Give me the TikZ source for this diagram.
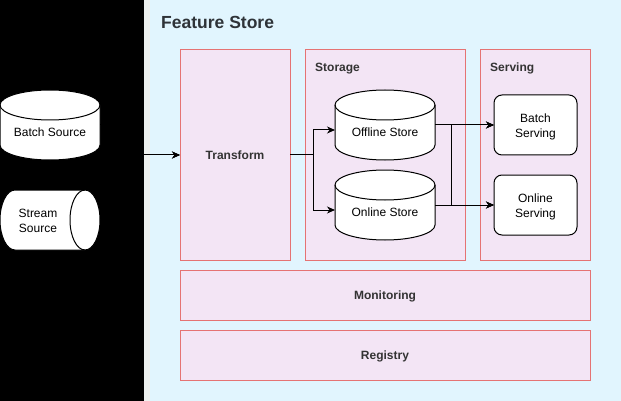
\documentclass[tikz,border=0pt]{standalone}
\usepackage{fontspec}
\setmainfont{Liberation Sans}
\usetikzlibrary{arrows.meta,calc}
\definecolor{fsblue}{HTML}{E1F5FE}
\definecolor{fsstrip}{HTML}{EEF1EF}
\definecolor{pinkfill}{HTML}{F3E5F5}
\definecolor{redline}{HTML}{E57373}
\definecolor{labelgray}{HTML}{333333}
\definecolor{titlegray}{HTML}{2E3338}
\tikzset{
  panel/.style={draw=redline, fill=pinkfill, line width=1pt, rectangle, anchor=north west, inner sep=0pt, outer sep=0pt},
  hold/.style={rectangle, draw=none, anchor=north west, inner sep=0pt, outer sep=0pt},
  cylline/.style={draw=black, fill=white, line width=1pt},
  servbox/.style={draw=black, fill=white, line width=1pt, rounded corners=8pt, rectangle, anchor=north west, inner sep=0pt, outer sep=0pt, minimum width=83pt, minimum height=60pt},
  boldlabel/.style={font=\bfseries\fontsize{12}{14}\selectfont, text=labelgray, inner sep=0pt, text height=8.7pt, text depth=0pt},
  plainlabel/.style={font=\fontsize{12}{15}\selectfont, text=black, inner sep=0pt, align=center},
  conn/.style={draw=black, line width=1pt},
  arr/.style={conn, -{Stealth[length=8pt,width=7pt,inset=2.5pt]}},
}
\newcommand{\vcylshape}[4]{% left, top, width, height
  \filldraw[cylline] (#1,#2+15) -- (#1,#2+#4-15)
     arc[start angle=180,end angle=0,x radius=#3/2,y radius=15]
     -- (#1+#3,#2+15)
     arc[start angle=0,end angle=-180,x radius=#3/2,y radius=15] -- cycle;
  \draw[cylline, fill=none] (#1,#2+15) arc[start angle=180,end angle=0,x radius=#3/2,y radius=15];
}
\begin{document}
\begin{tikzpicture}[x=1pt,y=-1pt]
\useasboundingbox (0,0) rectangle (621,401);
% backgrounds
\fill[black] (0,0) rectangle (144,401);
\fill[fsstrip] (144,0) rectangle (150,401);
\fill[fsblue] (150,0) rectangle (621,401);

\node[anchor=west, inner sep=0pt, font=\bfseries\fontsize{17.5}{20}\selectfont, text=titlegray] (title) at (161,22) {Feature Store};

% panels
\node[panel, minimum width=110pt, minimum height=210pt] (tr) at (180,50) {};
\node[boldlabel] (trl) at (tr.center) {Transform};
\node[panel, minimum width=160pt, minimum height=210pt] (stor) at (305,50) {};
\node[boldlabel, anchor=west] (storl) at (315,67.5) {Storage};
\node[panel, minimum width=110pt, minimum height=210pt] (serv) at (480,50) {};
\node[boldlabel, anchor=west] (servl) at (490,67.5) {Serving};
\node[panel, minimum width=410pt, minimum height=50pt] (mon) at (180,270) {};
\node[boldlabel] (monl) at (mon.center) {Monitoring};
\node[panel, minimum width=410pt, minimum height=50pt] (reg) at (180,330) {};
\node[boldlabel] (regl) at (reg.center) {Registry};

% sources
\node[hold, minimum width=100pt, minimum height=70pt] (bsrc) at (0,90) {};
\vcylshape{0}{90}{100}{70}
\node[plainlabel] (bsrcl) at ($(bsrc.center)+(0,7.5)$) {Batch Source};

\node[hold, minimum width=100pt, minimum height=60pt] (ssrc) at (0,190) {};
\filldraw[cylline] (15,190) -- (85,190)
   arc[start angle=-90,end angle=90,x radius=15,y radius=30]
   -- (15,250)
   arc[start angle=90,end angle=270,x radius=15,y radius=30] -- cycle;
\draw[cylline, fill=none] (85,190) arc[start angle=270,end angle=90,x radius=15,y radius=30];
\node[plainlabel] (ssrcl) at (38,221) {Stream\\Source};

% stores
\node[hold, minimum width=100pt, minimum height=70pt] (off) at (335,90) {};
\vcylshape{335}{90}{100}{70}
\node[plainlabel] (offl) at ($(off.center)+(0,7.5)$) {Offline Store};
\node[hold, minimum width=100pt, minimum height=70pt] (onl) at (335,170) {};
\vcylshape{335}{170}{100}{70}
\node[plainlabel] (onll) at ($(onl.center)+(0,7.5)$) {Online Store};

% serving boxes
\node[servbox] (bsv) at (494,95) {};
\node[plainlabel] (bsvl) at ($(bsv.center)+(0,1.5)$) {Batch\\Serving};
\node[servbox] (osv) at (494,175) {};
\node[plainlabel] (osvl) at ($(osv.center)+(0,1.5)$) {Online\\Serving};

% connectors
\coordinate (jin) at (140,155);
\coordinate (jst) at (313,155);
\coordinate (jsv) at (451,0);
\draw[arr] (bsrc.east) -| (jin) -- (tr.west);
\draw[arr] (ssrc.east) -| (jin) -- (tr.west);
\draw[arr] (tr.east) -- (jst) |- ([yshift=-5pt]off.west);
\draw[arr] (tr.east) -- (jst) |- ([yshift=-5pt]onl.west);
\draw[arr] (off.east) -- (bsv.west);
\draw[arr] (onl.east) -- (osv.west);
\draw[arr] (off.east) -| (jsv |- osv.west) -- (osv.west);
\draw[arr] (onl.east) -| (jsv |- bsv.west) -- (bsv.west);
\end{tikzpicture}
\end{document}
